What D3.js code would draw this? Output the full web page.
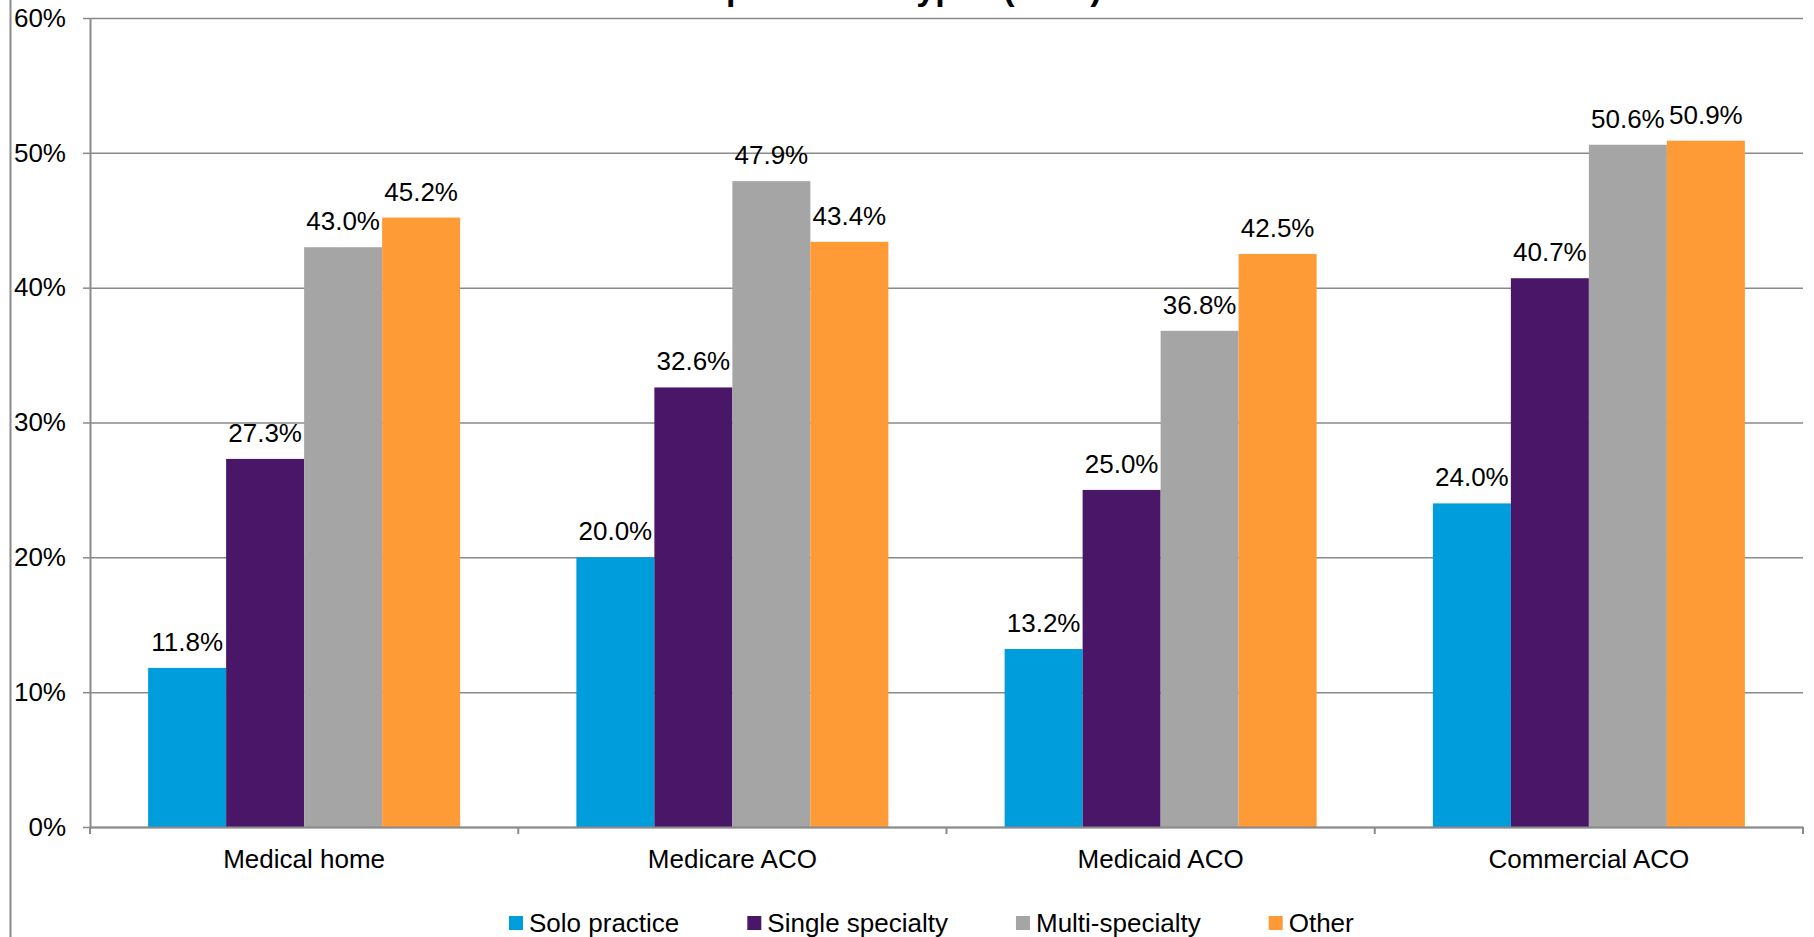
<!DOCTYPE html>
<html>
<head>
<meta charset="utf-8">
<script src="https://cdn.jsdelivr.net/npm/d3@7"></script>
<style>
  html, body { margin: 0; padding: 0; background: #fff; overflow: hidden; }
  svg { display: block; font-family: "Liberation Sans", Arial, sans-serif; }
</style>
</head>
<body>
<svg id="chart" width="1814" height="937"></svg>
<script>
// Chart data
const categories = ["Medical home", "Medicare ACO", "Medicaid ACO", "Commercial ACO"];
const seriesNames = ["Solo practice", "Single specialty", "Multi-specialty", "Other"];
const soloPractice     = [11.8, 20.0, 13.2, 24.0];
const singleSpecialty  = [27.3, 32.6, 25.0, 40.7];
const multiSpecialty   = [43.0, 47.9, 36.8, 50.6];
const otherPractice    = [45.2, 43.4, 42.5, 50.9];
const yTicks = [0, 10, 20, 30, 40, 50, 60];
const titleText = "Group Practice Types (2012)";

const seriesValues = [soloPractice, singleSpecialty, multiSpecialty, otherPractice];
const seriesColors = ["#009ddc", "#4a1668", "#a5a5a5", "#ff9b37"];

const svg = d3.select("#chart");
const plot = { left: 90, right: 1803, top: 18, bottom: 827 };
const gray = "#8a8a8a";
const fontSize = 26;

// Chart-area border (left edge)
svg.append("line")
  .attr("x1", 10.5).attr("x2", 10.5).attr("y1", 0).attr("y2", 937)
  .attr("stroke", gray).attr("stroke-width", 2);

// Title (sits at the very top edge of the chart area)
const title = svg.append("text")
  .attr("x", 0).attr("y", 0)
  .attr("font-size", 34).attr("font-weight", "bold")
  .attr("fill", "#000")
  .text(titleText);
const pStart = title.node().getStartPositionOfChar(4).x;
title.attr("x", 726 - pStart);

// Scales
const y = d3.scaleLinear().domain([0, 60]).range([plot.bottom, plot.top]);
const x0 = d3.scaleBand().domain(categories).range([plot.left, plot.right]).padding(0);
const x1 = d3.scaleBand().domain(seriesNames).range([0, x0.bandwidth()])
  .paddingInner(0).paddingOuter(0.745);

// Horizontal gridlines
const grid = svg.append("g")
  .attr("transform", `translate(${plot.left},0)`)
  .call(d3.axisLeft(y).tickValues(yTicks).tickSize(-(plot.right - plot.left)).tickFormat(""));
grid.select(".domain").remove();
grid.selectAll("line").attr("stroke", gray).attr("stroke-width", 1.5);

// Bars
const groups = svg.append("g").selectAll("g")
  .data(categories)
  .join("g")
  .attr("transform", d => `translate(${x0(d)},0)`);

groups.selectAll("rect")
  .data((c, ci) => seriesNames.map((s, si) => ({ series: s, si, value: seriesValues[si][ci] })))
  .join("rect")
  .attr("x", d => x1(d.series))
  .attr("width", x1.bandwidth())
  .attr("y", d => y(d.value))
  .attr("height", d => y(0) - y(d.value))
  .attr("fill", d => seriesColors[d.si]);

// Data labels
groups.selectAll("text.label")
  .data((c, ci) => seriesNames.map((s, si) => ({ series: s, si, value: seriesValues[si][ci] })))
  .join("text")
  .attr("class", "label")
  .attr("x", d => x1(d.series) + x1.bandwidth() / 2)
  .attr("y", d => y(d.value) - 17)
  .attr("text-anchor", "middle")
  .attr("font-size", fontSize)
  .attr("fill", "#000")
  .text(d => d.value.toFixed(1) + "%");

// Y axis
const yAxis = svg.append("g")
  .attr("transform", `translate(${plot.left},0)`)
  .call(d3.axisLeft(y).tickValues(yTicks).tickSize(7).tickPadding(17)
    .tickFormat(d => d + "%"));
yAxis.select(".domain").attr("stroke", gray).attr("stroke-width", 2)
  .attr("d", `M0.5,${plot.top}V${plot.bottom + 1}`);
yAxis.selectAll("line").attr("stroke", gray).attr("stroke-width", 1.5);
yAxis.selectAll("text").attr("font-size", fontSize).attr("fill", "#000")
  .attr("font-family", "'Liberation Sans', Arial, sans-serif");

// X axis with tick marks on category boundaries
const xAxisG = svg.append("g").attr("transform", `translate(0,${plot.bottom})`);
xAxisG.append("line")
  .attr("x1", plot.left).attr("x2", plot.right)
  .attr("y1", 0.5).attr("y2", 0.5)
  .attr("stroke", gray).attr("stroke-width", 2);
const boundaries = categories.map(c => x0(c)).concat([x0(categories[categories.length - 1]) + x0.bandwidth()]);
xAxisG.selectAll("line.tick")
  .data(boundaries)
  .join("line")
  .attr("class", "tick")
  .attr("x1", d => d).attr("x2", d => d)
  .attr("y1", 0).attr("y2", 7)
  .attr("stroke", gray).attr("stroke-width", 2);
xAxisG.selectAll("text")
  .data(categories)
  .join("text")
  .attr("x", d => x0(d) + x0.bandwidth() / 2)
  .attr("y", 41)
  .attr("text-anchor", "middle")
  .attr("font-size", fontSize)
  .attr("fill", "#000")
  .text(d => d);

// Legend
const legend = svg.append("g").attr("transform", "translate(509,916)");
let lx = 0;
seriesNames.forEach((name, i) => {
  const item = legend.append("g").attr("transform", `translate(${lx},0)`);
  item.append("rect").attr("width", 14).attr("height", 14).attr("fill", seriesColors[i]);
  const t = item.append("text")
    .attr("x", 20).attr("y", 16)
    .attr("font-size", fontSize)
    .attr("fill", "#000")
    .text(name);
  lx += 20 + t.node().getComputedTextLength() + 68;
});
</script>
</body>
</html>
